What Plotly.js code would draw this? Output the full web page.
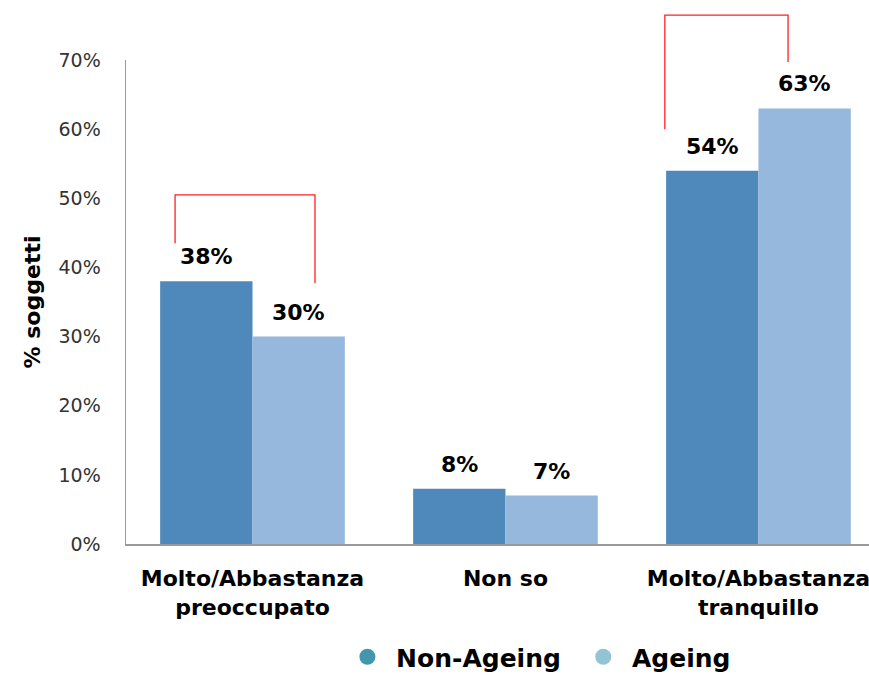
<!DOCTYPE html>
<html>
<head>
<meta charset="utf-8">
<script src="https://cdn.plot.ly/plotly-3.0.1.min.js"></script>
<style>html,body{margin:0;padding:0;background:#fff;}#chart{width:869px;height:681px;}</style>
</head>
<body>
<div id="chart"></div>
<script>
const categories = ["Molto/Abbastanza<br>preoccupato", "Non so", "Molto/Abbastanza<br>tranquillo"];
const nonAgeing = [0.38, 0.08, 0.54];
const ageing = [0.30, 0.07, 0.63];
const seriesNames = ["Non-Ageing", "Ageing"];
const barColors = ["#4F89BC", "#97B8DD"];
const legendColors = ["#4397AD", "#93C4D5"];
const yTickVals = [0, 0.1, 0.2, 0.3, 0.4, 0.5, 0.6, 0.7];
const yTickText = ["0%", "10%", "20%", "30%", "40%", "50%", "60%", "70%"];
// brackets: [xLeft, xRight, yTop, yLeftEnd, yRightEnd] in data units (category index, fraction)
const brackets = [
  [-0.306, 0.247, 0.505, 0.435, 0.377],
  [1.630, 2.117, 0.765, 0.600, 0.697]
];

const xRange = [-0.5, 2.437];
const yRange = [0, 0.7];
const FONT = "DejaVu Sans, sans-serif";
const NB = "\u00a0";

const traces = [
  {type: "bar", x: categories, y: nonAgeing, name: seriesNames[0], marker: {color: barColors[0]}, showlegend: false, hoverinfo: "none"},
  {type: "bar", x: categories, y: ageing, name: seriesNames[1], marker: {color: barColors[1]}, showlegend: false, hoverinfo: "none"},
  {type: "scatter", mode: "markers", x: [categories[0]], y: [null], name: NB + seriesNames[0] + NB + NB, marker: {color: legendColors[0], size: 20, symbol: "circle"}},
  {type: "scatter", mode: "markers", x: [categories[0]], y: [null], name: NB + seriesNames[1], marker: {color: legendColors[1], size: 20, symbol: "circle"}}
];

const annotations = [];
function pct(v){ return Math.round(v*100) + "%"; }
categories.forEach((c, i) => {
  annotations.push({x: c, y: nonAgeing[i], xref: "x", yref: "y", text: "<b>" + pct(nonAgeing[i]) + "</b>", showarrow: false, xshift: -46, yshift: 10, yanchor: "bottom", font: {family: FONT, size: 22, color: "#000"}});
  annotations.push({x: c, y: ageing[i], xref: "x", yref: "y", text: "<b>" + pct(ageing[i]) + "</b>", showarrow: false, xshift: 46, yshift: 10, yanchor: "bottom", font: {family: FONT, size: 22, color: "#000"}});
});

function px(v){ return (v - xRange[0]) / (xRange[1] - xRange[0]); }
function py(v){ return (v - yRange[0]) / (yRange[1] - yRange[0]); }
const shapes = [];
brackets.forEach(b => {
  shapes.push({type: "path", xref: "paper", yref: "paper",
    path: `M ${px(b[0])} ${py(b[3])} L ${px(b[0])} ${py(b[2])} L ${px(b[1])} ${py(b[2])} L ${px(b[1])} ${py(b[4])}`,
    line: {color: "#FF2020", width: 1.3}});
});

const layout = {
  width: 869, height: 681,
  margin: {l: 126, r: 0, t: 60, b: 137},
  paper_bgcolor: "#fff", plot_bgcolor: "#fff",
  barmode: "group", bargap: 0.27, bargroupgap: 0,
  font: {family: FONT, color: "#000"},
  xaxis: {type: "category", range: xRange, showline: true, linecolor: "#999", linewidth: 1.5, showgrid: false, ticks: "", zeroline: false,
    tickfont: {family: FONT, size: 22, color: "#000", weight: "bold"}, ticklabelstandoff: 14, fixedrange: true},
  yaxis: {range: yRange, tickvals: yTickVals, ticktext: yTickText, showline: true, linecolor: "#999", linewidth: 1.5, showgrid: false, zeroline: false, ticks: "",
    tickfont: {family: FONT, size: 19, color: "#333"}, ticklabelstandoff: 20,
    title: {text: "<b>% soggetti</b>", font: {family: FONT, size: 22, color: "#000"}, standoff: 12}},
  legend: {orientation: "h", x: 0.298, y: -0.281, xanchor: "left", yanchor: "bottom", font: {family: FONT, size: 25, color: "#000", weight: "bold"}, itemwidth: 30},
  annotations: annotations,
  shapes: shapes,
  showlegend: true
};

Plotly.newPlot("chart", traces, layout, {displayModeBar: false, staticPlot: true});
</script>
</body>
</html>
